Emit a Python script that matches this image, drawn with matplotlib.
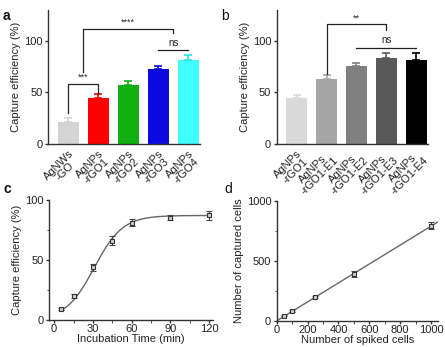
import numpy as np
import matplotlib
matplotlib.use("Agg")
import matplotlib.pyplot as plt

plt.rcParams['font.family'] = ['Liberation Sans', 'DejaVu Sans']

# ---- data ----
a_labels = ["AgNWs\n-GO", "AgNPs\n-rGO1", "AgNPs\n-rGO2", "AgNPs\n-rGO3", "AgNPs\n-rGO4"]
a_values = [21, 45, 57, 73, 82]
a_errors = [4, 4, 4, 3, 4]
a_colors = ["#d4d4d4", "#ff0000", "#10b010", "#0a0ae0", "#40ffff"]

b_labels = ["AgNPs\n-rGO1", "AgNPs\n-rGO1-E1", "AgNPs\n-rGO1-E2", "AgNPs\n-rGO1-E3", "AgNPs\n-rGO1-E4"]
b_values = [45, 63, 76, 83, 82]
b_errors = [3, 4, 3, 5, 6]
b_colors = ["#d9d9d9", "#a6a6a6", "#808080", "#595959", "#000000"]

c_time = [5, 15, 30, 45, 60, 90, 120]
c_eff = [9, 20, 44, 66, 81, 85, 87]
c_err = [1, 2, 3, 4, 3, 2, 4]
c_fit_top, c_fit_mid, c_fit_slope = 87.0, 31.0, 11.0

d_spiked = [50, 100, 250, 500, 1000]
d_captured = [40, 80, 195, 385, 790]
d_err = [5, 6, 10, 25, 30]

# ---- figure ----
fig = plt.figure(figsize=(4.45, 3.47), dpi=100)
axc = "#333333"

def style(ax):
    for s in ["top", "right"]:
        ax.spines[s].set_visible(False)
    for s in ["left", "bottom"]:
        ax.spines[s].set_color(axc)
        ax.spines[s].set_linewidth(1.0)
    ax.tick_params(colors=axc, labelcolor="#222222", labelsize=8, width=1.0, length=2.5, pad=1.5)

def bars(ax, labels, vals, errs, cols):
    x = np.arange(len(vals))
    ax.bar(x, vals, width=0.7, color=cols, zorder=2)
    for xi, v, e, c in zip(x, vals, errs, cols):
        ec = c if c not in ("#40ffff",) else "#30e0e0"
        ax.errorbar(xi, v, yerr=[[0], [e]], color=ec, capsize=3, elinewidth=1.2, capthick=1.2, zorder=3)
    ax.set_xticks(x)
    ax.set_xticklabels(labels, rotation=45, ha="right", rotation_mode="anchor", fontsize=4.4,
                       multialignment="center", linespacing=0.95, color="#333333")
    ax.set_ylim(0, 130)
    ax.set_yticks([0, 50, 100])
    ax.set_xlim(-0.67, 4.4)
    ax.set_ylabel("Capture efficiency (%)", fontsize=8, color="#222222", labelpad=2)
    style(ax)
    ax.tick_params(axis="x", length=0, pad=3)

def bracket(ax, x1, x2, y, y1, y2, text):
    ax.plot([x1, x1, x2, x2], [y1, y, y, y2], color="#222222", lw=0.9, zorder=4)
    ax.text((x1 + x2) / 2, y + 2, text, ha="center", va="bottom", fontsize=6.5, color="#222222")

# panel a
ax1 = fig.add_axes([0.108, 0.585, 0.342, 0.386])
bars(ax1, a_labels, a_values, a_errors, a_colors)
bracket(ax1, 0, 1, 58, 30, 49, "***")
bracket(ax1, 0.5, 3.5, 112, 70, 108, "****")
ax1.plot([3, 4], [91, 91], color="#222222", lw=0.9)
ax1.text(3.5, 93, "ns", ha="center", va="bottom", fontsize=7, color="#222222")

# panel b
ax2 = fig.add_axes([0.622, 0.585, 0.34, 0.386])
bars(ax2, b_labels, b_values, b_errors, b_colors)
bracket(ax2, 1, 3, 116, 68, 111, "**")
ax2.plot([2, 4], [93, 93], color="#222222", lw=0.9)
ax2.text(3, 96, "ns", ha="center", va="bottom", fontsize=7, color="#222222")

# panel c
ax3 = fig.add_axes([0.110, 0.078, 0.369, 0.346])
tt = np.linspace(min(c_time), max(c_time), 300)
fit = c_fit_top / (1 + np.exp(-(tt - c_fit_mid) / c_fit_slope))
ax3.plot(tt, fit, color="#666666", lw=1.0, zorder=2)
ax3.errorbar(c_time, c_eff, yerr=c_err, fmt="s", ms=2.5, mfc="#cccccc", mec="#333333", mew=0.8,
             ecolor="#444444", elinewidth=0.8, capsize=2, capthick=0.8, zorder=3)
ax3.set_xlim(-4, 123)
ax3.set_ylim(0, 100)
ax3.set_xticks([0, 30, 60, 90, 120])
ax3.set_xticks([15, 45, 75, 105], minor=True)
ax3.set_yticks([0, 50, 100])
ax3.set_yticks([25, 75], minor=True)
ax3.set_xlabel("Incubation Time (min)", fontsize=8, color="#222222", labelpad=0)
ax3.set_ylabel("Capture efficiency (%)", fontsize=8, color="#222222", labelpad=2)
style(ax3)
ax3.tick_params(which="minor", length=1.8, color=axc)
ax3.tick_params(axis="x", pad=0.5)

# panel d
ax4 = fig.add_axes([0.622, 0.076, 0.362, 0.346])
slope, icpt = np.polyfit(d_spiked, d_captured, 1)
xx = np.array([0, 1045])
ax4.plot(xx, slope * xx + icpt, color="#666666", lw=1.0, zorder=2)
ax4.errorbar(d_spiked, d_captured, yerr=d_err, fmt="s", ms=2.5, mfc="#cccccc", mec="#333333", mew=0.8,
             ecolor="#444444", elinewidth=0.8, capsize=2, capthick=0.8, zorder=3)
ax4.set_xlim(0, 1045)
ax4.set_ylim(0, 1000)
ax4.set_xticks([0, 200, 400, 600, 800, 1000])
ax4.set_xticks([100, 300, 500, 700, 900], minor=True)
ax4.set_yticks([0, 500, 1000])
ax4.set_yticks([250, 750], minor=True)
ax4.set_xlabel("Number of spiked cells", fontsize=8, color="#222222", labelpad=0)
ax4.set_ylabel("Number of captured cells", fontsize=8, color="#222222", labelpad=2)
style(ax4)
ax4.tick_params(which="minor", length=1.8, color=axc)
ax4.tick_params(axis="x", pad=0.5)

# panel letters
fig.text(0.005, 0.975, "a", fontsize=10, fontweight="bold", va="top", color="#111111")
fig.text(0.498, 0.975, "b", fontsize=10, va="top", color="#111111")
fig.text(0.008, 0.475, "c", fontsize=10, fontweight="bold", va="top", color="#111111")
fig.text(0.505, 0.475, "d", fontsize=10, va="top", color="#111111")

fig.savefig("out.png", dpi=100)
